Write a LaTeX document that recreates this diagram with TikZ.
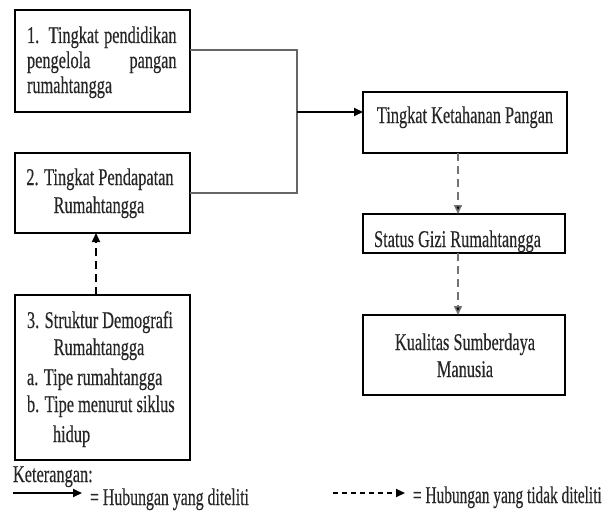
\documentclass[tikz,border=0pt]{standalone}
\usepackage{fontspec}
\setmainfont{Liberation Serif}[FakeBold=0.4]
\usetikzlibrary{arrows.meta}
\newcommand\sq[1]{\scalebox{0.68}[1]{#1}}
\tikzset{
  box/.style={draw=black, line width=2pt, inner sep=0pt, outer sep=0pt},
  txt/.style={inner sep=0pt, outer sep=0pt, font=\fontsize{24}{27}\selectfont, text=black!85},
  gline/.style={draw=black!60, line width=1.6pt},
  solidarrow/.style={draw=black, line width=2pt, -{Triangle[length=9pt,width=8pt]}},
  dasharrow/.style={draw=black!55, line width=1.6pt, dash pattern=on 8pt off 5pt, -{Triangle[length=9pt,width=8pt,fill=black]}},
  blackdash/.style={draw=black, line width=2pt, dash pattern=on 8pt off 5pt, -{Triangle[length=9pt,width=8pt]}},
  legdash/.style={draw=black, line width=2pt, dash pattern=on 5pt off 4pt, -{Triangle[length=9pt,width=8pt]}},
}
\begin{document}
\begin{tikzpicture}[x=1pt,y=-1pt]
\useasboundingbox[fill=white] (0,0) rectangle (609,511);
% boxes
\node[box, minimum width=175pt, minimum height=102pt] (b1) at (102.5,61) {};
\node[box, minimum width=175pt, minimum height=80pt] (b2) at (102.5,193) {};
\node[box, minimum width=175pt, minimum height=165pt] (b3) at (102.5,377.5) {};
\node[box, minimum width=204pt, minimum height=61pt] (kp) at (465,122.5) {};
\node[box, minimum width=202pt, minimum height=39pt] (sg) at (464,233.5) {};
\node[box, minimum width=202pt, minimum height=80pt] (ks) at (464,355) {};
% box 1 text
\node[txt, anchor=base west] (t1a) at (27,43) {\sq{\makebox[220pt][s]{1. Tingkat pendidikan}}};
\node[txt, anchor=base west] (t1b) at (27,68) {\sq{\makebox[220pt][s]{pengelola pangan}}};
\node[txt, anchor=base west] (t1c) at (27,93) {\sq{rumahtangga}};
% box 2 text
\node[txt, anchor=base] (t2a) at (100,185) {\sq{2. Tingkat Pendapatan}};
\node[txt, anchor=base] (t2b) at (99,213) {\sq{Rumahtangga}};
% box 3 text
\node[txt, anchor=base west] (t3a) at (27,328) {\sq{3. Struktur Demografi}};
\node[txt, anchor=base] (t3b) at (99,355) {\sq{Rumahtangga}};
\node[txt, anchor=base west] (t3c) at (27,385) {\sq{a. Tipe rumahtangga}};
\node[txt, anchor=base west] (t3d) at (27,412) {\sq{b. Tipe menurut siklus}};
\node[txt, anchor=base west] (t3e) at (53,442) {\sq{hidup}};
% right texts
\node[txt, anchor=base] (tkp) at (465,123) {\sq{Tingkat Ketahanan Pangan}};
\node[txt, anchor=base] (tsg) at (457.5,247) {\sq{Status Gizi Rumahtangga}};
\node[txt, anchor=base] (tksa) at (465,350) {\sq{Kualitas Sumberdaya}};
\node[txt, anchor=base] (tksb) at (465,377) {\sq{Manusia}};
% connectors
\coordinate (j1) at (297,50);
\coordinate (j2) at (297,193);
\coordinate (jm) at (297,112);
\draw[gline] (b1.east |- j1) -- (j1) -- (j2) -- (b2.east |- j2);
\draw[solidarrow] (jm) -- (kp.west |- jm);
\coordinate (cx) at (458,0);
\draw[dasharrow] (kp.south -| cx) -- (sg.north -| cx);
\draw[dasharrow] (sg.south -| cx) -- (ks.north -| cx);
\coordinate (cy) at (96,0);
\draw[blackdash] (b3.north -| cy) -- (b2.south -| cy);
% legend
\node[txt, anchor=base west] (ket) at (13,482) {\sq{Keterangan:}};
\coordinate (l1s) at (13,493);
\coordinate (l1e) at (82,493);
\draw[solidarrow] (l1s) -- (l1e);
\node[txt, anchor=base west] (lt1) at (90,505) {\scalebox{0.66}[1]{= Hubungan yang diteliti}};
\coordinate (l2s) at (333,493);
\coordinate (l2e) at (405,493);
\draw[legdash] (l2s) -- (l2e);
\node[txt, anchor=base west] (lt2) at (413,503) {\scalebox{0.64}[1]{= Hubungan yang tidak diteliti}};
\end{tikzpicture}
\end{document}
